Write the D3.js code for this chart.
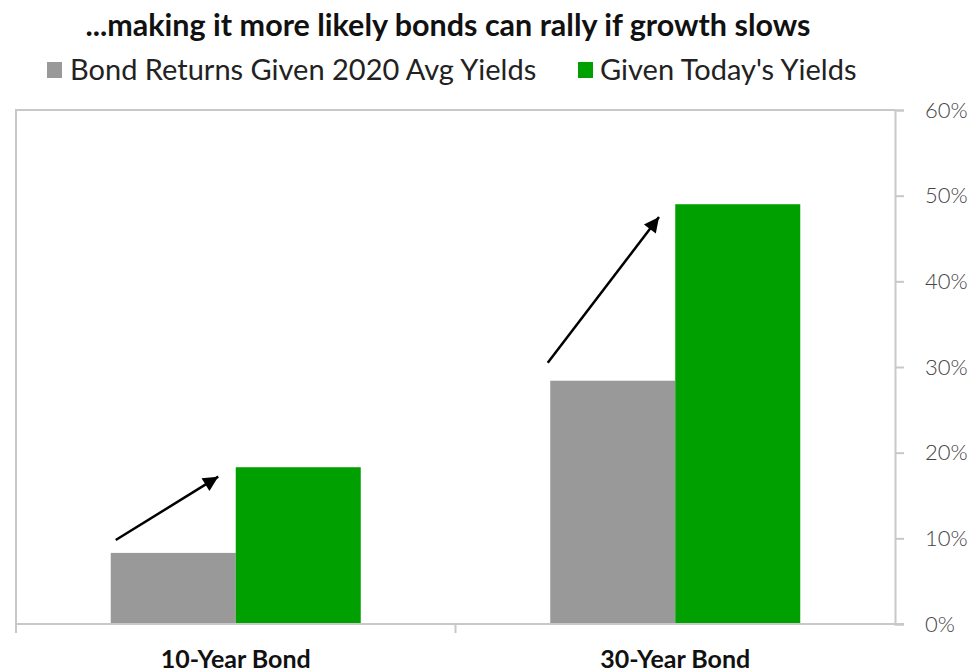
<!DOCTYPE html>
<html><head><meta charset="utf-8">
<script src="https://cdn.jsdelivr.net/npm/d3@7"></script>
<style>body{margin:0;background:#fff}svg{display:block}</style>
</head><body>
<svg id="c" width="978" height="672"></svg>
<script>
const title = "...making it more likely bonds can rally if growth slows";
const categories = ["10-Year Bond", "30-Year Bond"];
const seriesNames = ["Bond Returns Given 2020 Avg Yields", "Given Today's Yields"];
const avg2020Yields = [8.3, 28.4];
const todaysYields = [18.3, 49.0];
const arrowFrom = [9.8, 30.5];
const arrowTo = [17.2, 47.5];
const yTicks = [0, 10, 20, 30, 40, 50, 60];
const colors = ["#999999", "#00a000"];

const svg = d3.select("#c");
const L = 16, R = 895, T = 110, B = 624;
const x0 = d3.scaleBand().domain(categories).range([L, R]).padding(0);
const x1 = d3.scaleBand().domain(seriesNames).range([0, x0.bandwidth()]).paddingInner(0).paddingOuter(0.758);
const y = d3.scaleLinear().domain([0, 60]).range([B, T]);

// frame
svg.append("path").attr("d", `M${L},${B}V${T}H${R}`).attr("fill","none").attr("stroke","#c8c8c8").attr("stroke-width",2);
svg.append("line").attr("x1",L).attr("x2",L).attr("y1",B).attr("y2",B+9).attr("stroke","#c8c8c8").attr("stroke-width",2);

const data = categories.map((c,i)=>({cat:c, vals:[avg2020Yields[i], todaysYields[i]]}));
const g = svg.selectAll("g.grp").data(data).join("g").attr("transform", d=>`translate(${x0(d.cat)},0)`);
g.selectAll("rect").data(d=>d.vals.map((v,j)=>({s:seriesNames[j], v, j}))).join("rect")
  .attr("x", d=>x1(d.s)).attr("width", x1.bandwidth())
  .attr("y", d=>y(d.v)).attr("height", d=>y(0)-y(d.v)).attr("fill", d=>colors[d.j]);

// y axis right
const yAxis = d3.axisRight(y).tickValues(yTicks).tickFormat(d=>d+"%").tickSize(9).tickPadding(21);
const ya = svg.append("g").attr("transform",`translate(${R},0)`).call(yAxis);
ya.select(".domain").attr("stroke","#c8c8c8").attr("stroke-width",2);
ya.selectAll(".tick line").attr("stroke","#c8c8c8").attr("stroke-width",2);
ya.selectAll("text").attr("font-family","Lato").attr("font-weight",300).attr("font-size",22).attr("fill","#444");

// x axis
const xAxis = d3.axisBottom(x0).tickSize(0).tickPadding(26);
const xa = svg.append("g").attr("transform",`translate(0,${B})`).call(xAxis);
xa.select(".domain").attr("d",`M${L},0H${R+9}`).attr("stroke","#c8c8c8").attr("stroke-width",2);
xa.selectAll("text").attr("font-family","Lato").attr("font-weight",700).attr("font-size",25).attr("fill","#111");
// divider tick between categories
svg.append("line").attr("x1",x0(categories[1])).attr("x2",x0(categories[1])).attr("y1",B).attr("y2",B+9).attr("stroke","#c8c8c8").attr("stroke-width",2);

// arrows
svg.append("defs").append("marker").attr("id","ah").attr("viewBox","0 0 10 10").attr("refX",10).attr("refY",5)
  .attr("markerWidth",20).attr("markerHeight",15).attr("markerUnits","userSpaceOnUse").attr("orient","auto")
  .append("path").attr("d","M0,0L10,5L0,10Z").attr("fill","#000");
const bw = x1.bandwidth();
categories.forEach((c,i)=>{
  const xs = x0(c) + x1(seriesNames[0]) + (i===0 ? 0.04 : -0.02)*bw;
  const xe = x0(c) + x1(seriesNames[1]) - (i===0 ? 0.14 : 0.13)*bw;
  svg.append("line").attr("x1",xs).attr("y1",y(arrowFrom[i])).attr("x2",xe).attr("y2",y(arrowTo[i]))
    .attr("stroke","#000").attr("stroke-width",2.5).attr("marker-end","url(#ah)");
});

// title
svg.append("text").attr("x",448).attr("y",36).attr("text-anchor","middle").attr("font-family","Lato")
  .attr("font-weight",700).attr("font-size",30.5).attr("fill","#111").text(title);

// legend
const leg = [{x:47, tx:70}, {x:578, tx:600}];
seriesNames.forEach((s,i)=>{
  svg.append("rect").attr("x",leg[i].x).attr("y",62).attr("width",15).attr("height",16).attr("fill",colors[i]);
  svg.append("text").attr("x",leg[i].tx).attr("y",80).attr("font-family","Lato").attr("font-size",29)
    .attr("fill","#222").text(s);
});
</script>
</body></html>
